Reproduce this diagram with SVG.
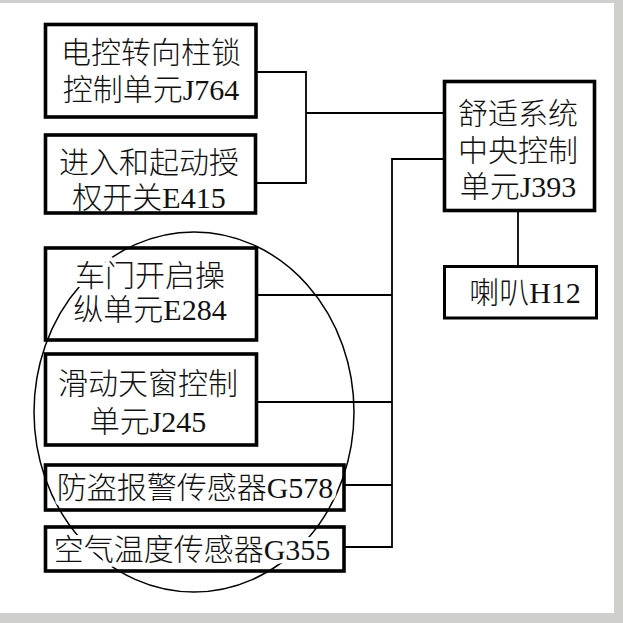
<svg xmlns="http://www.w3.org/2000/svg" width="623" height="623" viewBox="0 0 623 623">
<style>
.box{fill:none;stroke:#000;stroke-width:3.6}
.thin{fill:none;stroke:#000;stroke-width:3}
.wire{fill:none;stroke:#000;stroke-width:1.8}
.t{font-family:"Liberation Serif","Noto Sans CJK SC",serif;font-size:30px;font-weight:300;fill:#111;text-anchor:middle;stroke:#fff;stroke-width:8;stroke-linejoin:round;paint-order:stroke}
</style>
<rect x="0" y="0" width="623" height="623" fill="#cfcfcb"/>
<rect x="0" y="3" width="614" height="610" fill="#fff"/>
<ellipse id="circle" cx="194" cy="412" rx="160" ry="180" fill="none" stroke="#000" stroke-width="1.5"/>
<g id="connectors" class="wire">
<path class="wire" d="M256,72 H306 V183 H256"/>
<path class="wire" d="M306,113 H444"/>
<path class="wire" d="M444,159 H392 V547 H344"/>
<path class="wire" d="M256,295 H392"/>
<path class="wire" d="M256,402 H392"/>
<path class="wire" d="M344,485 H392"/>
<path class="wire" d="M518,211 V266"/>
</g>
<g id="J764">
<text class="t" x="151" y="63">电控转向柱锁</text>
<text class="t" x="151" y="100">控制单元J764</text>
<rect class="box" x="45.5" y="24.5" width="210.5" height="92.5"/>
</g>
<g id="E415">
<text class="t" x="149" y="173">进入和起动授</text>
<text class="t" x="149" y="208">权开关E415</text>
<rect class="box" x="45.5" y="135" width="210" height="78"/>
</g>
<g id="E284">
<text class="t" x="150" y="286">车门开启操</text>
<text class="t" x="150" y="320">纵单元E284</text>
<rect class="box" x="45.5" y="248" width="211" height="92"/>
</g>
<g id="J245">
<text class="t" x="148" y="394">滑动天窗控制</text>
<text class="t" x="148" y="432">单元J245</text>
<rect class="box" x="45.5" y="354" width="211" height="91"/>
</g>
<g id="G578">
<text class="t" x="195" y="498">防盗报警传感器G578</text>
<rect class="box" x="45.5" y="465" width="298.5" height="45"/>
</g>
<g id="G355">
<text class="t" x="192" y="560">空气温度传感器G355</text>
<rect class="box" x="45.5" y="527" width="298.5" height="44"/>
</g>
<g id="J393">
<text class="t" x="518" y="124">舒适系统</text>
<text class="t" x="518" y="161">中央控制</text>
<text class="t" x="518" y="197">单元J393</text>
<rect class="box" x="444.5" y="81.5" width="150" height="129"/>
</g>
<g id="H12">
<text class="t" x="525" y="303">喇叭H12</text>
<rect class="thin" x="444.5" y="266.5" width="152" height="51.5"/>
</g>
</svg>
